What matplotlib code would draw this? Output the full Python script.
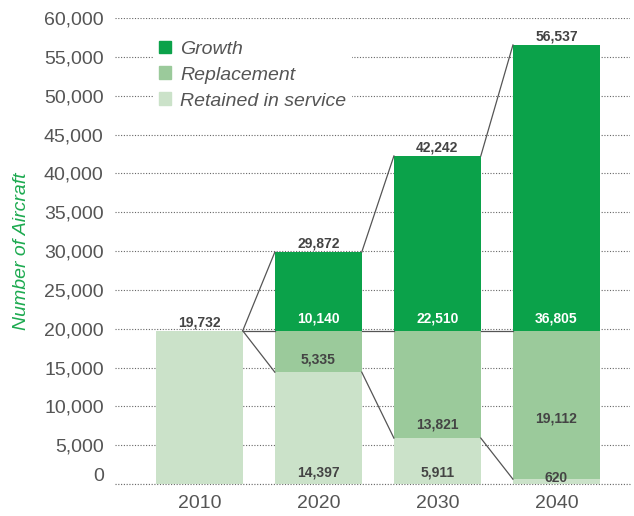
import matplotlib.pyplot as plt
from matplotlib.patches import Patch
from matplotlib.transforms import ScaledTranslation

# %% Data.
years = ['2010', '2020', '2030', '2040']
retained = [19732, 14397, 5911, 620]
replacement = [0, 5335, 13821, 19112]
growth = [0, 10140, 22510, 36805]
totals = [19732, 29872, 42242, 56537]
y_ticks = list(range(0, 60001, 5000))

# label offsets (points above the segment base) for replacement values
repl_offsets = [0, 9, 10, 44]

c_growth = '#0ba24a'
c_repl = '#9bca9b'
c_ret = '#cbe2c9'
c_text = '#555555'
c_lab = '#444444'

plt.rcParams['font.family'] = ['Liberation Sans', 'DejaVu Sans']

fig = plt.figure(figsize=(6.34, 5.16), dpi=100)
ax = fig.add_axes([0.181, 0.062, 0.813, 0.903])

x = list(range(len(years)))
w = 0.73
base2 = [r + p for r, p in zip(retained, replacement)]
ax.bar(x, retained, w, color=c_ret, zorder=2)
ax.bar(x, replacement, w, bottom=retained, color=c_repl, zorder=2)
ax.bar(x, growth, w, bottom=base2, color=c_growth, zorder=2)

# %% Connector lines.
lc = dict(color='#555555', linewidth=0.9, zorder=3)
for i in range(len(x) - 1):
    xr = x[i] + w / 2
    xl = x[i + 1] - w / 2
    ax.plot([xr, xl], [totals[i], totals[i + 1]], **lc)
    ax.plot([xr, xl], [base2[i], base2[i + 1]], **lc)
    ax.plot([xr, xl], [retained[i], retained[i + 1]], **lc)

# %% Labels.
for i in x:
    ax.annotate(f'{totals[i]:,}', (i, totals[i]), xytext=(0, 1), textcoords='offset points',
                ha='center', va='bottom', fontsize=10, fontweight='bold', color=c_lab)
    if growth[i]:
        ax.annotate(f'{growth[i]:,}', (i, base2[i]), xytext=(0, 9), textcoords='offset points',
                    ha='center', va='center', fontsize=10, fontweight='bold', color='white', zorder=4)
    if replacement[i]:
        ax.annotate(f'{replacement[i]:,}', (i, retained[i]), xytext=(0, repl_offsets[i]),
                    textcoords='offset points', ha='center', va='center', fontsize=10,
                    fontweight='bold', color=c_lab, zorder=4)
    if i > 0:
        off = 4 if retained[i] < 1000 else 8
        ax.annotate(f'{retained[i]:,}', (i, 0), xytext=(0, off), textcoords='offset points',
                    ha='center', va='center', fontsize=10, fontweight='bold', color=c_lab, zorder=4)

# %% Axes styling.
ax.set_xlim(-0.71, 3.62)
ax.set_ylim(0, 60000)
ax.set_yticks(y_ticks)
ax.set_yticklabels([f'{v:,}' for v in y_ticks])
ax.set_xticks(x)
ax.set_xticklabels(years)
ax.tick_params(axis='both', length=0, labelsize=14, labelcolor=c_text)
ax.tick_params(axis='y', pad=8)
ax.tick_params(axis='x', pad=8)
grid_style = dict(linestyle=(0, (1, 1.5)), color='#666666', linewidth=0.8)
ax.grid(axis='y', zorder=0, **grid_style)
ax.axhline(0, clip_on=False, zorder=1, **grid_style)
ax.set_axisbelow(True)
for s in ax.spines.values():
    s.set_visible(False)

ax.set_ylabel('Number of Aircraft', fontsize=14, fontstyle='italic', color='#1daa50', labelpad=10)

handles = [Patch(color=c_growth), Patch(color=c_repl), Patch(color=c_ret)]
leg = ax.legend(handles, ['Growth', 'Replacement', 'Retained in service'], loc='upper left',
                bbox_to_anchor=(0.055, 0.985), frameon=True, fontsize=14, handlelength=0.62,
                handleheight=0.62, handletextpad=0.5, labelspacing=0.45, borderpad=0.3)
leg.get_frame().set_facecolor('white')
leg.get_frame().set_edgecolor('none')
leg.get_frame().set_alpha(1)
for t in leg.get_texts():
    t.set_fontstyle('italic')
    t.set_color(c_text)

fig.canvas.draw()
lab0 = ax.get_yticklabels()[0]
lab0.set_transform(lab0.get_transform() + ScaledTranslation(0, 7 / 72, fig.dpi_scale_trans))

fig.savefig('out.png', dpi=100)
